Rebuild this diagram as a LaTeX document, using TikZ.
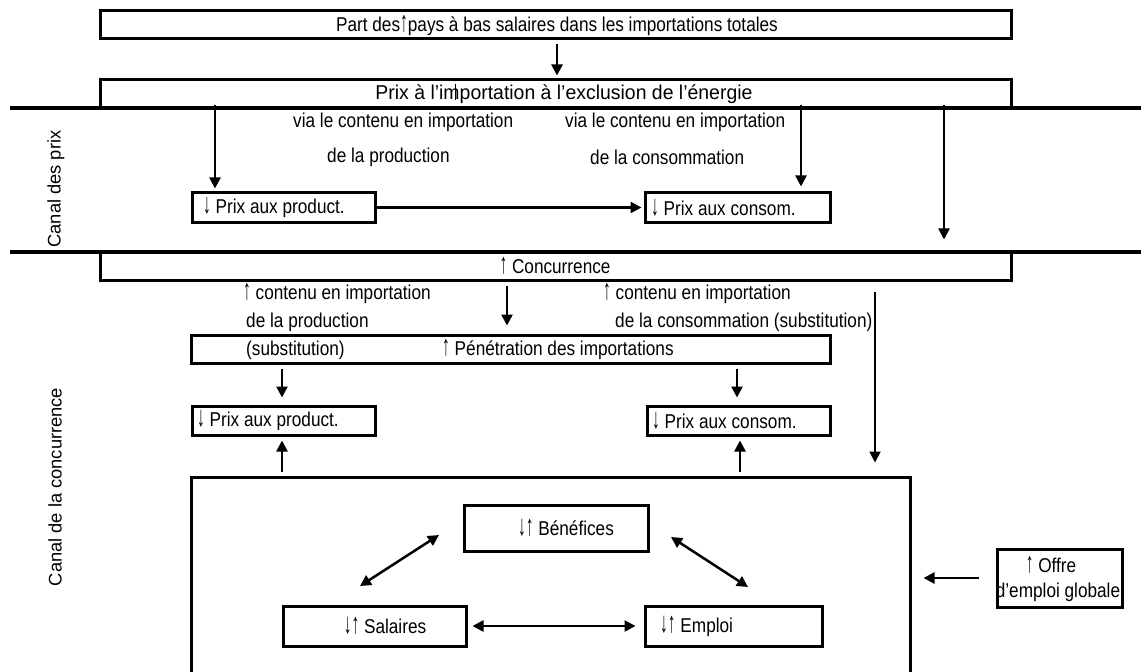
\documentclass[tikz,border=0pt]{standalone}
\usepackage{fontspec}
\usepackage{graphicx}
\setmainfont{Liberation Sans}[FakeStretch=0.86]
\newfontfamily\plainfont{Liberation Sans}
\usetikzlibrary{arrows.meta}
\newcommand\dfont{\fontsize{20bp}{22bp}\selectfont}
\newcommand\cfont{\plainfont\fontsize{18.3bp}{20bp}\selectfont}
\newcommand\ua{\scalebox{0.9}[1.45]{↑}}
\newcommand\da{\scalebox{0.9}[1.45]{↓}}
\begin{document}
\begin{tikzpicture}[x=1bp,y=-1bp,
  box/.style={draw, line width=3bp, inner sep=0pt, rectangle},
  txt/.style={inner sep=0pt, font=\dfont},
  arr/.style={line width=2.5bp, -{Triangle[length=11bp,width=11bp]}},
  darr/.style={line width=2.5bp, {Triangle[length=11bp,width=11bp]}-{Triangle[length=11bp,width=11bp]}},
  divline/.style={line width=4.5bp}]
\clip (0,0) rectangle (1141,672);
\fill[white] (0,0) rectangle (1141,672);
% boxes
\node[box, minimum width=910bp, minimum height=28bp] (t1) at (556,25) {};
\node[box, minimum width=910bp, minimum height=28bp] (t2) at (556,94) {};
\node[box, minimum width=910bp, minimum height=28bp] (c1) at (556,266) {};
\node[box, minimum width=183bp, minimum height=29bp] (pp) at (283.5,207.5) {};
\node[box, minimum width=185bp, minimum height=29bp] (pc) at (737.5,207.5) {};
\node[box, minimum width=638bp, minimum height=28bp] (pen) at (511,349) {};
\node[box, minimum width=183bp, minimum height=29bp] (lp) at (283.5,420.5) {};
\node[box, minimum width=183bp, minimum height=29bp] (lc) at (738.5,420.5) {};
\node[box, minimum width=718bp, minimum height=243bp] (big) at (551,598.5) {};
\node[box, minimum width=184bp, minimum height=46bp] (ben) at (556,528) {};
\node[box, minimum width=183bp, minimum height=40bp] (sal) at (374.5,626) {};
\node[box, minimum width=177bp, minimum height=40bp] (emp) at (733.5,626) {};
\node[box, minimum width=125bp, minimum height=58bp] (off) at (1059.5,578) {};
% dividers
\draw[divline] (10,108) -- (1141,108);
\draw[divline] (10,252) -- (1141,252);
% texts
\node[txt] (tx1) at (557,25) {Part des\ua pays à bas salaires dans les importations totales};
\node[txt] (tx2) at (564,94) {\scalebox{1.13}[1]{Prix à l’im\llap{\rule[-1bp]{1bp}{16bp}\hspace{3bp}}portation à l’exclusion de l’énergie}};
\node[txt, anchor=west] (v1) at (293,122) {via le contenu en importation};
\node[txt, anchor=west] (v2) at (327,157) {de la production};
\node[txt, anchor=west] (v3) at (565,122) {via le contenu en importation};
\node[txt, anchor=west] (v4) at (590,157) {de la consommation};
\node[txt, anchor=west] (tpp) at (203,207.5) {\da\ Prix aux product.};
\node[txt, anchor=west] (tpc) at (651,207.5) {\da\ Prix aux consom.};
\node[txt] (tc1) at (555,266) {\ua\ Concurrence};
\node[txt, anchor=west] (w1) at (243,293) {\ua\ contenu en importation};
\node[txt, anchor=west] (w2) at (246,322) {de la production};
\node[txt, anchor=west] (w3) at (246,350) {(substitution)};
\node[txt, anchor=west] (w4) at (603,293) {\ua\ contenu en importation};
\node[txt, anchor=west] (w5) at (615,322) {de la consommation (substitution)};
\node[txt, anchor=west] (tpen) at (442,349) {\ua\ Pénétration des importations};
\node[txt, anchor=west] (tlp) at (197,420.5) {\da\ Prix aux product.};
\node[txt, anchor=west] (tlc) at (652,420.5) {\da\ Prix aux consom.};
\node[txt] (tben) at (566,528) {\da\ua\ Bénéfices};
\node[txt] (tsal) at (385,626) {\da\ua\ Salaires};
\node[txt, anchor=west] (temp) at (660,626) {\da\ua\ Emploi};
\node[txt] (toff1) at (1051,565) {\ua\ Offre};
\node[txt] (toff2) at (1058,592) {d’emploi globale};
\node[inner sep=0pt, font=\cfont, rotate=90] (cp) at (56,189) {Canal des prix};
\node[inner sep=0pt, font=\cfont, rotate=90] (cc) at (55,487) {Canal de la concurrence};
% connectors
\draw[arr, shorten <=4bp, shorten >=3bp] (t1.south -| 557,0) -- (t2.north -| 557,0);
\draw[arr, shorten >=3bp] ([yshift=4bp]t2.south -| 215,0) -- (pp.north -| 215,0);
\draw[arr, shorten >=5bp] ([yshift=4bp]t2.south -| 801,0) -- (pc.north -| 801,0);
\draw[arr, line width=2bp, shorten >=11bp] ([yshift=4bp]t2.south -| 944,0) -- (c1.north -| 944,0);
\draw[arr, shorten >=2bp] (pp.east) -- (pc.west);
\draw[arr, shorten >=8bp, shorten <=4bp] (c1.south -| 507,0) -- (pen.north -| 507,0);
\draw[arr, line width=2bp, shorten >=13bp, shorten <=10bp] (c1.south -| 875,0) -- (big.north -| 875,0);
\draw[arr, shorten >=7bp, shorten <=4bp] (pen.south -| 282,0) -- (lp.north -| 282,0);
\draw[arr, shorten >=7bp, shorten <=4bp] (pen.south -| 737,0) -- (lc.north -| 737,0);
\draw[arr, shorten >=4bp, shorten <=4bp] (big.north -| 282,0) -- (lp.south -| 282,0);
\draw[arr, shorten >=4bp, shorten <=4bp] (big.north -| 740,0) -- (lc.south -| 740,0);
\coordinate (s1) at (360,586); \coordinate (b1) at (439,535);
\coordinate (b2) at (671,537); \coordinate (e2) at (748,587);
\draw[darr] (s1) -- (b1);
\draw[darr] (b2) -- (e2);
\draw[darr, shorten <=5bp, shorten >=8bp] (sal.east) -- (emp.west);
\draw[arr, shorten <=17bp, shorten >=12bp] (off.west) -- (big.east |- off.west);
\end{tikzpicture}
\end{document}
